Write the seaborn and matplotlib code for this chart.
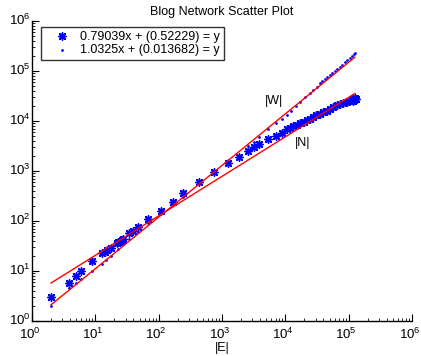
import matplotlib
matplotlib.use("Agg")
import matplotlib.pyplot as plt
import matplotlib.transforms as mtransforms
import seaborn as sns
import pandas as pd
from matplotlib.ticker import FixedLocator, LogLocator, NullFormatter

# ---------------- data ----------------
n_edges = [2, 3.9, 4.9, 5.9, 8.8, 12.6, 14.2, 15.5, 17.5, 22, 23, 24.5, 26, 27.6, 34.4, 39.8, 47.7,
           69, 110, 166, 245, 438, 757, 1260, 1876, 2600, 3200, 3890, 5250, 7130, 8770,
           10500, 11750, 13400, 15100, 17100, 19500, 21800, 24500, 27700, 30900, 35300,
           39800, 45000, 50100, 57300, 64600, 72900, 81300, 93100, 102300, 111700,
           115000, 118000, 120200, 122000, 125000, 128800]
n_nodes = [3, 5.8, 7.9, 10, 16, 23, 24.3, 26.3, 28.4, 36.5, 38.5, 37.5, 41.7, 43, 56.8, 63, 77,
           108, 161, 244, 358, 594, 955, 1426, 1932, 2547, 3062, 3467, 4300, 5010, 5830,
           6820, 7410, 7940, 8510, 9000, 9770, 10500, 11200, 11900, 12900, 13800,
           15000, 16100, 17600, 19300, 20700, 21900, 23200, 24300, 25400, 26300,
           27000, 25500, 26900, 27800, 28500, 27500]

w_edges = [2, 3.9, 4.9, 5.9, 8.8, 12.6, 14.7, 17.5, 23, 27.6, 34.4, 47.7, 69, 110, 166, 245,
           438, 757, 1260, 2600, 3200, 3890, 5250, 7130, 8770,
           10500, 12200, 14600, 17100, 20500, 24500, 27700, 31300, 35300, 38000, 42300,
           45700, 50700, 55000, 60800, 66100, 72900, 79400, 87100, 95500, 104700,
           112200, 120200, 125900]
w_weights = [2, 4.5, 5.8, 6.8, 10, 13.8, 16.6, 20.2, 27.2, 34.2, 43, 61, 90, 142, 219, 298,
             568, 925, 1466, 3206, 3855, 4853, 6820, 9000, 10960,
             13400, 16100, 20200, 24300, 29800, 35800, 41700, 48500, 56800, 61700, 69200,
             75900, 83200, 91200, 100000, 109600, 120200, 133000, 148000, 164000, 182000,
             199500, 218800, 226500]

fit_n_x = [2, 126000]
fit_n_y = [5.76, 35700]
fit_w_x = [2, 126000]
fit_w_y = [2.11, 190000]

decade_ticks = [1, 10, 100, 1000, 10000, 100000, 1000000]
legend_labels = ["0.79039x + (0.52229) = y", "1.0325x + (0.013682) = y"]

# ---------------- style ----------------
plt.rcParams['font.family'] = ['Liberation Sans', 'DejaVu Sans']
plt.rcParams['mathtext.fontset'] = 'custom'
plt.rcParams['mathtext.rm'] = 'Liberation Sans'
plt.rcParams['mathtext.it'] = 'Liberation Sans:italic'
plt.rcParams['mathtext.bf'] = 'Liberation Sans:bold'

fig = plt.figure(figsize=(4.21, 3.56), dpi=100)
ax = fig.add_axes([0.076, 0.0983, 0.9026, 0.8427])

df_n = pd.DataFrame({"E": n_edges, "N": n_nodes})
df_w = pd.DataFrame({"E": w_edges, "W": w_weights})

sns.scatterplot(data=df_n, x="E", y="N", ax=ax, marker=(8, 2, 0), s=28,
                color="blue", edgecolor="blue", linewidth=1.1, label=legend_labels[0], zorder=3)
sns.scatterplot(data=df_w, x="E", y="W", ax=ax, marker="o", s=4,
                color="blue", edgecolor="blue", linewidth=0, label=legend_labels[1], zorder=3)

sns.lineplot(x=fit_n_x, y=fit_n_y, ax=ax, color="red", linewidth=1, estimator=None, zorder=4)
sns.lineplot(x=fit_w_x, y=fit_w_y, ax=ax, color="red", linewidth=1, estimator=None, zorder=4)

ax.set_xscale("log")
ax.set_yscale("log")
ax.set_xlim(1, 1e6)
ax.set_ylim(1, 1e6)
for axis in (ax.xaxis, ax.yaxis):
    axis.set_major_locator(FixedLocator(decade_ticks))
    axis.set_minor_locator(LogLocator(base=10, subs=(2, 3, 4, 5, 6, 7, 8, 9), numticks=12))
    axis.set_minor_formatter(NullFormatter())

for s in ["top", "right"]:
    ax.spines[s].set_visible(False)
for s in ["left", "bottom"]:
    ax.spines[s].set_linewidth(1)
    ax.spines[s].set_color("black")

ax.tick_params(which="major", direction="in", length=5, width=0.8, labelsize=9.5)
ax.tick_params(axis="x", which="major", pad=4)
ax.tick_params(axis="y", which="major", pad=1)
ax.tick_params(which="minor", direction="in", length=2.5, width=0.6)

ax.set_xlabel("|E|", fontsize=9, labelpad=0)
ax.set_ylabel("")
ax.set_title("Blog Network Scatter Plot", fontsize=9, pad=4)

ax.text(6600, 25100, "|W|", fontsize=9, ha="center", va="center")
ax.text(19000, 3630, "|N|", fontsize=9, ha="center", va="center")

h, l = ax.get_legend_handles_labels()
leg = ax.legend(h[:2], l[:2], loc="upper left", bbox_to_anchor=(0.024, 0.98),
                fontsize=9, frameon=True, fancybox=False, edgecolor="black",
                handlelength=2.7, handletextpad=0.15, borderpad=0.3, labelspacing=0.1,
                borderaxespad=0, markerscale=1.0)
leg.get_frame().set_linewidth(1)

fig.canvas.draw()
plt.setp(ax.yaxis.get_majorticklabels(), va="center_baseline")
yshift = mtransforms.ScaledTranslation(0, 2.5 / 100, fig.dpi_scale_trans)
for lab in ax.yaxis.get_majorticklabels():
    lab.set_transform(lab.get_transform() + yshift)
xshift = mtransforms.ScaledTranslation(-2.5 / 100, 0, fig.dpi_scale_trans)
for lab in ax.xaxis.get_majorticklabels():
    lab.set_transform(lab.get_transform() + xshift)

fig.savefig("out.png", dpi=100)
